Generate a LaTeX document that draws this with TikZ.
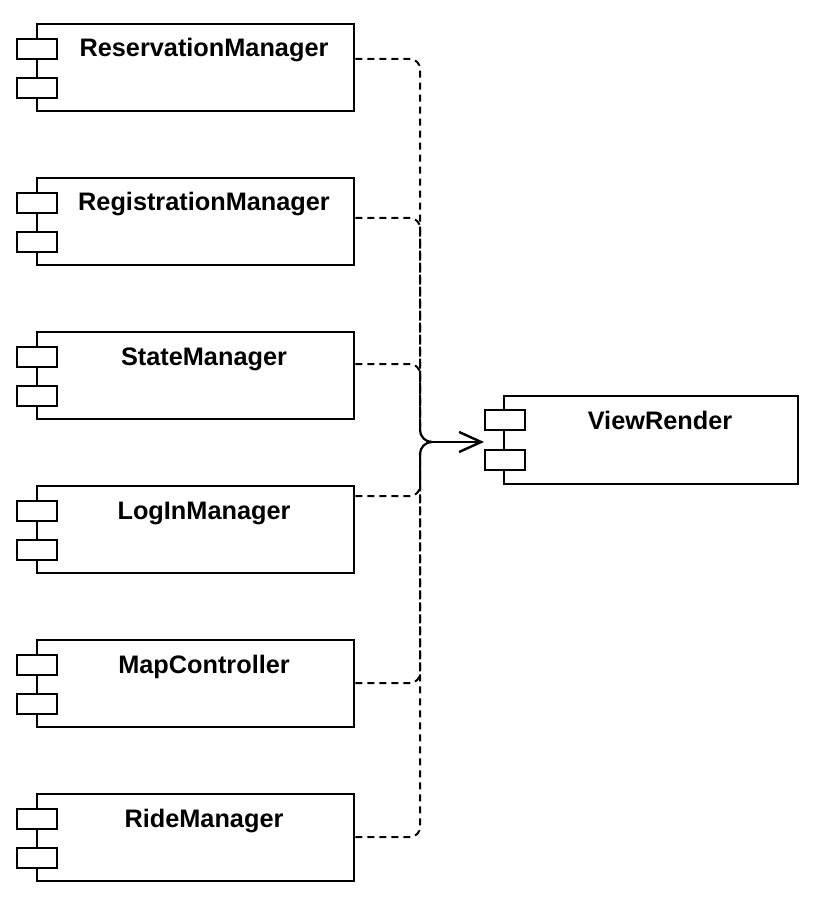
\documentclass[tikz,border=0pt]{standalone}
\usepackage{fontspec}
\setmainfont{Liberation Sans}
\usetikzlibrary{arrows.meta}
\begin{document}
\begin{tikzpicture}[x=1pt,y=-1pt,
  compbox/.style={draw=black,line width=2.3pt,fill=white,minimum width=317pt,minimum height=87pt,anchor=north west,inner sep=0pt},
  compsym/.style={draw=black,line width=2.3pt,fill=white,minimum width=40pt,minimum height=20pt,anchor=north west,inner sep=0pt},
  lbl/.style={font=\fontsize{25.3}{29}\selectfont\bfseries,anchor=base,inner sep=0pt},
  conn/.style={line width=2pt,dash pattern=on 7pt off 5pt,rounded corners=10pt},
  solidconn/.style={line width=2.2pt}
]
\useasboundingbox (0,0) rectangle (816,901);
% component boxes
\foreach \n/\t/\txt in {A/23/ReservationManager,B/177/RegistrationManager,C/331/StateManager,D/485/LogInManager,E/639/MapController,F/793/RideManager}{
  \node[compbox] (\n) at (36,\t) {};
  \node[compsym] (\n s1) at (16,\t+15) {};
  \node[compsym] (\n s2) at (16,\t+54) {};
  \node[lbl] (\n l) at (204,\t+34) {\txt};
}
% ViewRender
\node[compbox,minimum width=294pt,minimum height=88pt] (V) at (503,395) {};
\node[compsym] (Vs1) at (484,409) {};
\node[compsym] (Vs2) at (484,449) {};
\node[lbl] (Vl) at (660,429) {ViewRender};
\coordinate (Vin) at (484,442);
\coordinate (J) at (432,442);
% dashed connectors
\draw[conn] (A.east |- 0,59) -- (420,59) -- (420,431);
\draw[conn] (B.east |- 0,218) -- (420,218) -- (420,431);
\draw[conn] (C.east |- 0,364) -- (420,364) -- (420,431);
\draw[conn] (D.east |- 0,496) -- (420,496) -- (420,453);
\draw[conn] (E.east |- 0,683) -- (420,683) -- (420,453);
\draw[conn] (F.east |- 0,837) -- (420,837) -- (420,453);
% junction and arrow
\draw[solidconn] (420,430) arc[start angle=180,end angle=90,radius=12] ;
\draw[solidconn] (420,455) -- (420,454) arc[start angle=180,end angle=270,radius=12];
\draw[solidconn,-{Straight Barb[length=22pt,width=20pt,line width=2.4pt]}] (J) -- (Vin);
\end{tikzpicture}
\end{document}
